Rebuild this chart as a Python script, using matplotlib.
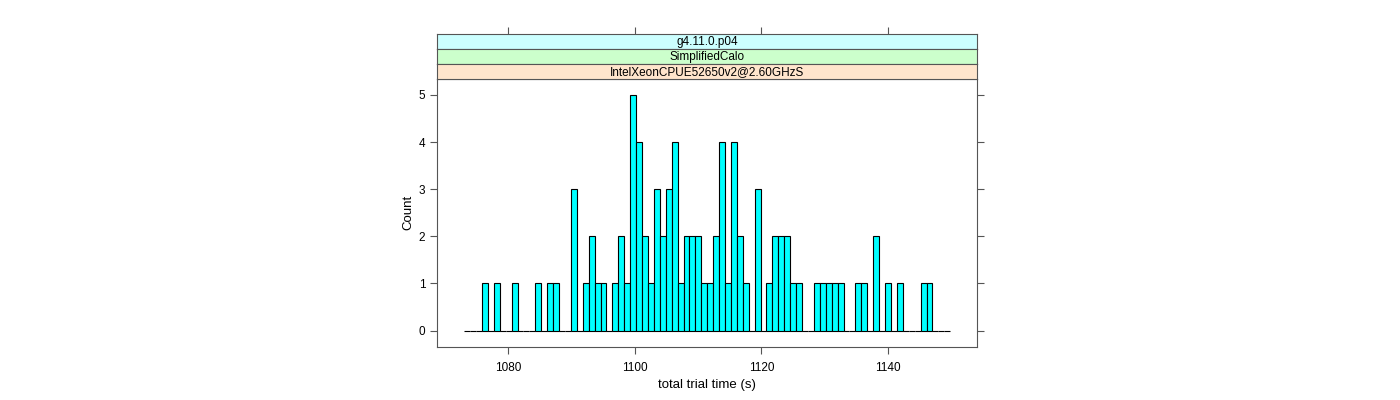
import numpy as np
import matplotlib.pyplot as plt

# ==========================================================
# DATA
# ==========================================================

# histogram bins (total trial time, s)
bin_start = 1073.0
bin_end = 1149.87
n_bins = 82

counts = [
    0, 0, 0, 1, 0, 1, 0, 0, 1, 0,
    0, 0, 1, 0, 1, 1, 0, 0, 3, 0,
    1, 2, 1, 1, 0, 1, 2, 1, 5, 4,
    2, 1, 3, 2, 3, 4, 1, 2, 2, 2,
    1, 1, 2, 4, 1, 4, 2, 1, 0, 3,
    0, 1, 2, 2, 2, 1, 1, 0, 0, 1,
    1, 1, 1, 1, 0, 0, 1, 1, 0, 2,
    0, 1, 0, 1, 0, 0, 0, 1, 1, 0,
    0, 0,
]

x_ticks = [1080, 1100, 1120, 1140]
y_ticks = [0, 1, 2, 3, 4, 5]

strip_labels = ["g4.11.0.p04", "SimplifiedCalo", "IntelXeonCPUE52650v2@2.60GHzS"]
strip_colors = ["#ccffff", "#ccffcc", "#ffe5cc"]

# ==========================================================
# FIGURE
# ==========================================================

plt.rcParams['font.family'] = ['Liberation Sans', 'DejaVu Sans']

W, H = 1400, 400
fig = plt.figure(figsize=(14, 4), dpi=100)

frame_col = "#555555"

left, right = 437 / W, 977 / W
bottom, top = 1 - 347 / H, 1 - 78.5 / H
ax = fig.add_axes([left, bottom, right - left, top - bottom])

edges = np.linspace(bin_start, bin_end, n_bins + 1)
width = edges[1] - edges[0]
ax.bar(edges[:-1], counts, width=width, align="edge",
       color="#00ffff", edgecolor="black", linewidth=0.8)

ax.set_xlim(1068.7, 1154.1)
ax.set_ylim(-0.35, 5.35)
ax.set_xticks(x_ticks)
ax.set_yticks(y_ticks)
ax.tick_params(axis="both", direction="out", length=5, width=0.8,
               color=frame_col, labelsize=8.5, pad=3.5)
ax.tick_params(axis="x", pad=5.5)
ax.tick_params(axis="y", right=True, labelright=False)
for s in ax.spines.values():
    s.set_color(frame_col)
    s.set_linewidth(0.8)

ax.set_xlabel("total trial time (s)", fontsize=9.5, labelpad=4)
ax.set_ylabel("Count", fontsize=9.5, labelpad=3)

# strips (top to bottom)
strip_h = 15 / H
for i, (lab, col) in enumerate(zip(strip_labels, strip_colors)):
    y0 = top + (len(strip_labels) - 1 - i) * strip_h
    sax = fig.add_axes([left, y0, right - left, strip_h], sharex=ax)
    sax.set_facecolor(col)
    sax.set_yticks([])
    sax.tick_params(axis="x", bottom=False, labelbottom=False,
                    top=(i == 0), labeltop=False, direction="out",
                    length=5, width=0.8, color=frame_col)
    for s in sax.spines.values():
        s.set_color(frame_col)
        s.set_linewidth(0.8)
    sax.text(0.5, 0.45, lab, transform=sax.transAxes,
             ha="center", va="center", fontsize=8.5)

fig.savefig("out.png", dpi=100)
